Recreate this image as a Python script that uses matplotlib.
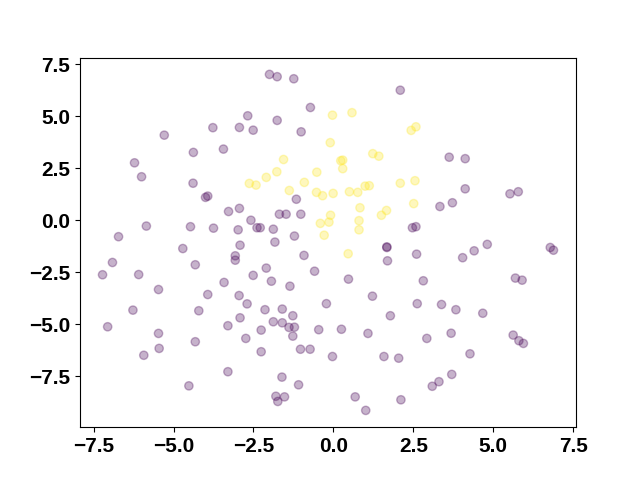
import matplotlib
matplotlib.use("Agg")
import matplotlib.pyplot as plt
import numpy as np

plt.rcParams['font.family'] = ['Liberation Sans', 'DejaVu Sans']
plt.rcParams['font.size'] = 15
plt.rcParams['font.weight'] = 'bold'

# inner class (yellow)
x_in = [-0.03, 0.58, 2.43, 2.58, -0.10, -1.56, 0.23, 0.29, 0.29, 1.23,
        1.42, -1.77, -2.10, -2.63, -2.42, -0.52, -0.91, -1.38, -0.53, -0.34,
        -0.01, 0.50, 0.76, 0.99, 1.12, 2.09, 2.55, 0.83, 1.66, 1.50,
        2.51, -0.09, -0.14, -0.41, 0.80, 0.80, -0.29, 0.46]
y_in = [5.06, 5.18, 4.33, 4.50, 3.74, 2.93, 2.87, 2.90, 2.49, 3.21,
        3.09, 2.34, 2.07, 1.78, 1.70, 2.32, 1.83, 1.44, 1.35, 1.19,
        1.30, 1.38, 1.35, 1.65, 1.67, 1.79, 1.91, 0.61, 0.48, 0.25,
        0.81, 0.25, -0.08, -0.14, -0.01, -0.45, -0.71, -1.60]

# outer class (purple)
x_out = [-3.77, -2.94, -5.29, -4.38, -3.44, -6.22, -6.00, -4.39, -4.00, -3.93,
         -3.28, -2.94, -5.85, -4.47, -3.75, -2.98, -6.72,
         -2.00, -1.76, -1.24, 2.09, -0.72, -2.68, -1.76, -2.51, -1.01,
         -1.16, -1.69, -1.48, -1.02, -2.58, -2.39, -2.29, -1.88, -1.22, -1.83,
         2.47, 2.58,
         3.62, 4.12, 4.12, 3.33, 3.72, 5.52, 5.78,
         -4.71, -2.92, -3.07, -3.07, -6.91, -7.22, -6.09, -4.32, -2.51, -5.47,
         -3.42, -3.93, -2.95, -2.70, -6.27, -4.21, -2.92, -7.06, -3.30, -5.47,
         -2.74, -5.45, -4.32, -5.93, -3.30, -4.52,
         1.67, 1.67, 1.69, 2.60, -0.92, -2.10, -1.94, -0.59, -1.36, 0.47,
         1.22, 2.62, -0.22, -2.14, -1.60, -1.27, 1.78, -1.88, -1.60, -1.39,
         -1.22, -1.27, -2.26, -0.46, 0.25, 1.08, -2.26, -1.03, -0.73, -0.03,
         1.58, 2.04, -1.61, -1.09, -1.80, -1.53, -1.74, 0.68, 2.11, 1.01,
         4.81, 4.40, 4.04, 6.78, 6.88, 2.81, 5.69, 5.90, 3.38, 3.83,
         4.67, 2.92, 3.68, 5.62, 5.80, 5.94, 4.27, 3.70, 3.30, 3.09]
y_out = [4.46, 4.47, 4.10, 3.27, 3.43, 2.77, 2.10, 1.79, 1.11, 1.17,
         0.43, 0.58, -0.27, -0.30, -0.37, -0.45, -0.78,
         7.02, 6.91, 6.81, 6.26, 5.43, 5.03, 4.81, 4.34, 4.26,
         1.02, 0.30, 0.30, 0.30, 0.01, -0.35, -0.35, -0.42, -0.75, -1.04,
         -0.35, -0.30,
         3.04, 2.97, 1.52, 0.67, 0.85, 1.28, 1.38,
         -1.35, -1.19, -1.70, -1.91, -2.02, -2.61, -2.60, -2.13, -2.64, -3.32,
         -2.98, -3.56, -3.61, -4.01, -4.31, -4.34, -4.68, -5.11, -5.06, -5.43,
         -5.67, -6.15, -5.83, -6.48, -7.27, -7.95,
         -1.27, -1.30, -1.94, -1.62, -1.68, -2.29, -2.92, -2.44, -3.16, -2.82,
         -3.64, -4.00, -4.00, -4.29, -4.26, -4.58, -4.58, -4.87, -4.92, -5.14,
         -5.13, -5.56, -5.27, -5.25, -5.23, -5.43, -6.31, -6.19, -6.19, -6.54,
         -6.54, -6.62, -7.53, -7.90, -8.45, -8.48, -8.70, -8.48, -8.62, -9.13,
         -1.15, -1.46, -1.79, -1.30, -1.43, -2.90, -2.77, -2.87, -4.04, -4.29,
         -4.46, -5.67, -5.42, -5.51, -5.78, -5.91, -6.41, -7.40, -7.75, -7.97]

x = np.array(x_out + x_in)
y = np.array(y_out + y_in)
labels = np.array([0] * len(x_out) + [1] * len(x_in))

fig, ax = plt.subplots(figsize=(6.4, 4.8), dpi=100)
ax.scatter(x, y, c=labels, cmap='viridis', alpha=0.3)

plt.savefig("out.png")
